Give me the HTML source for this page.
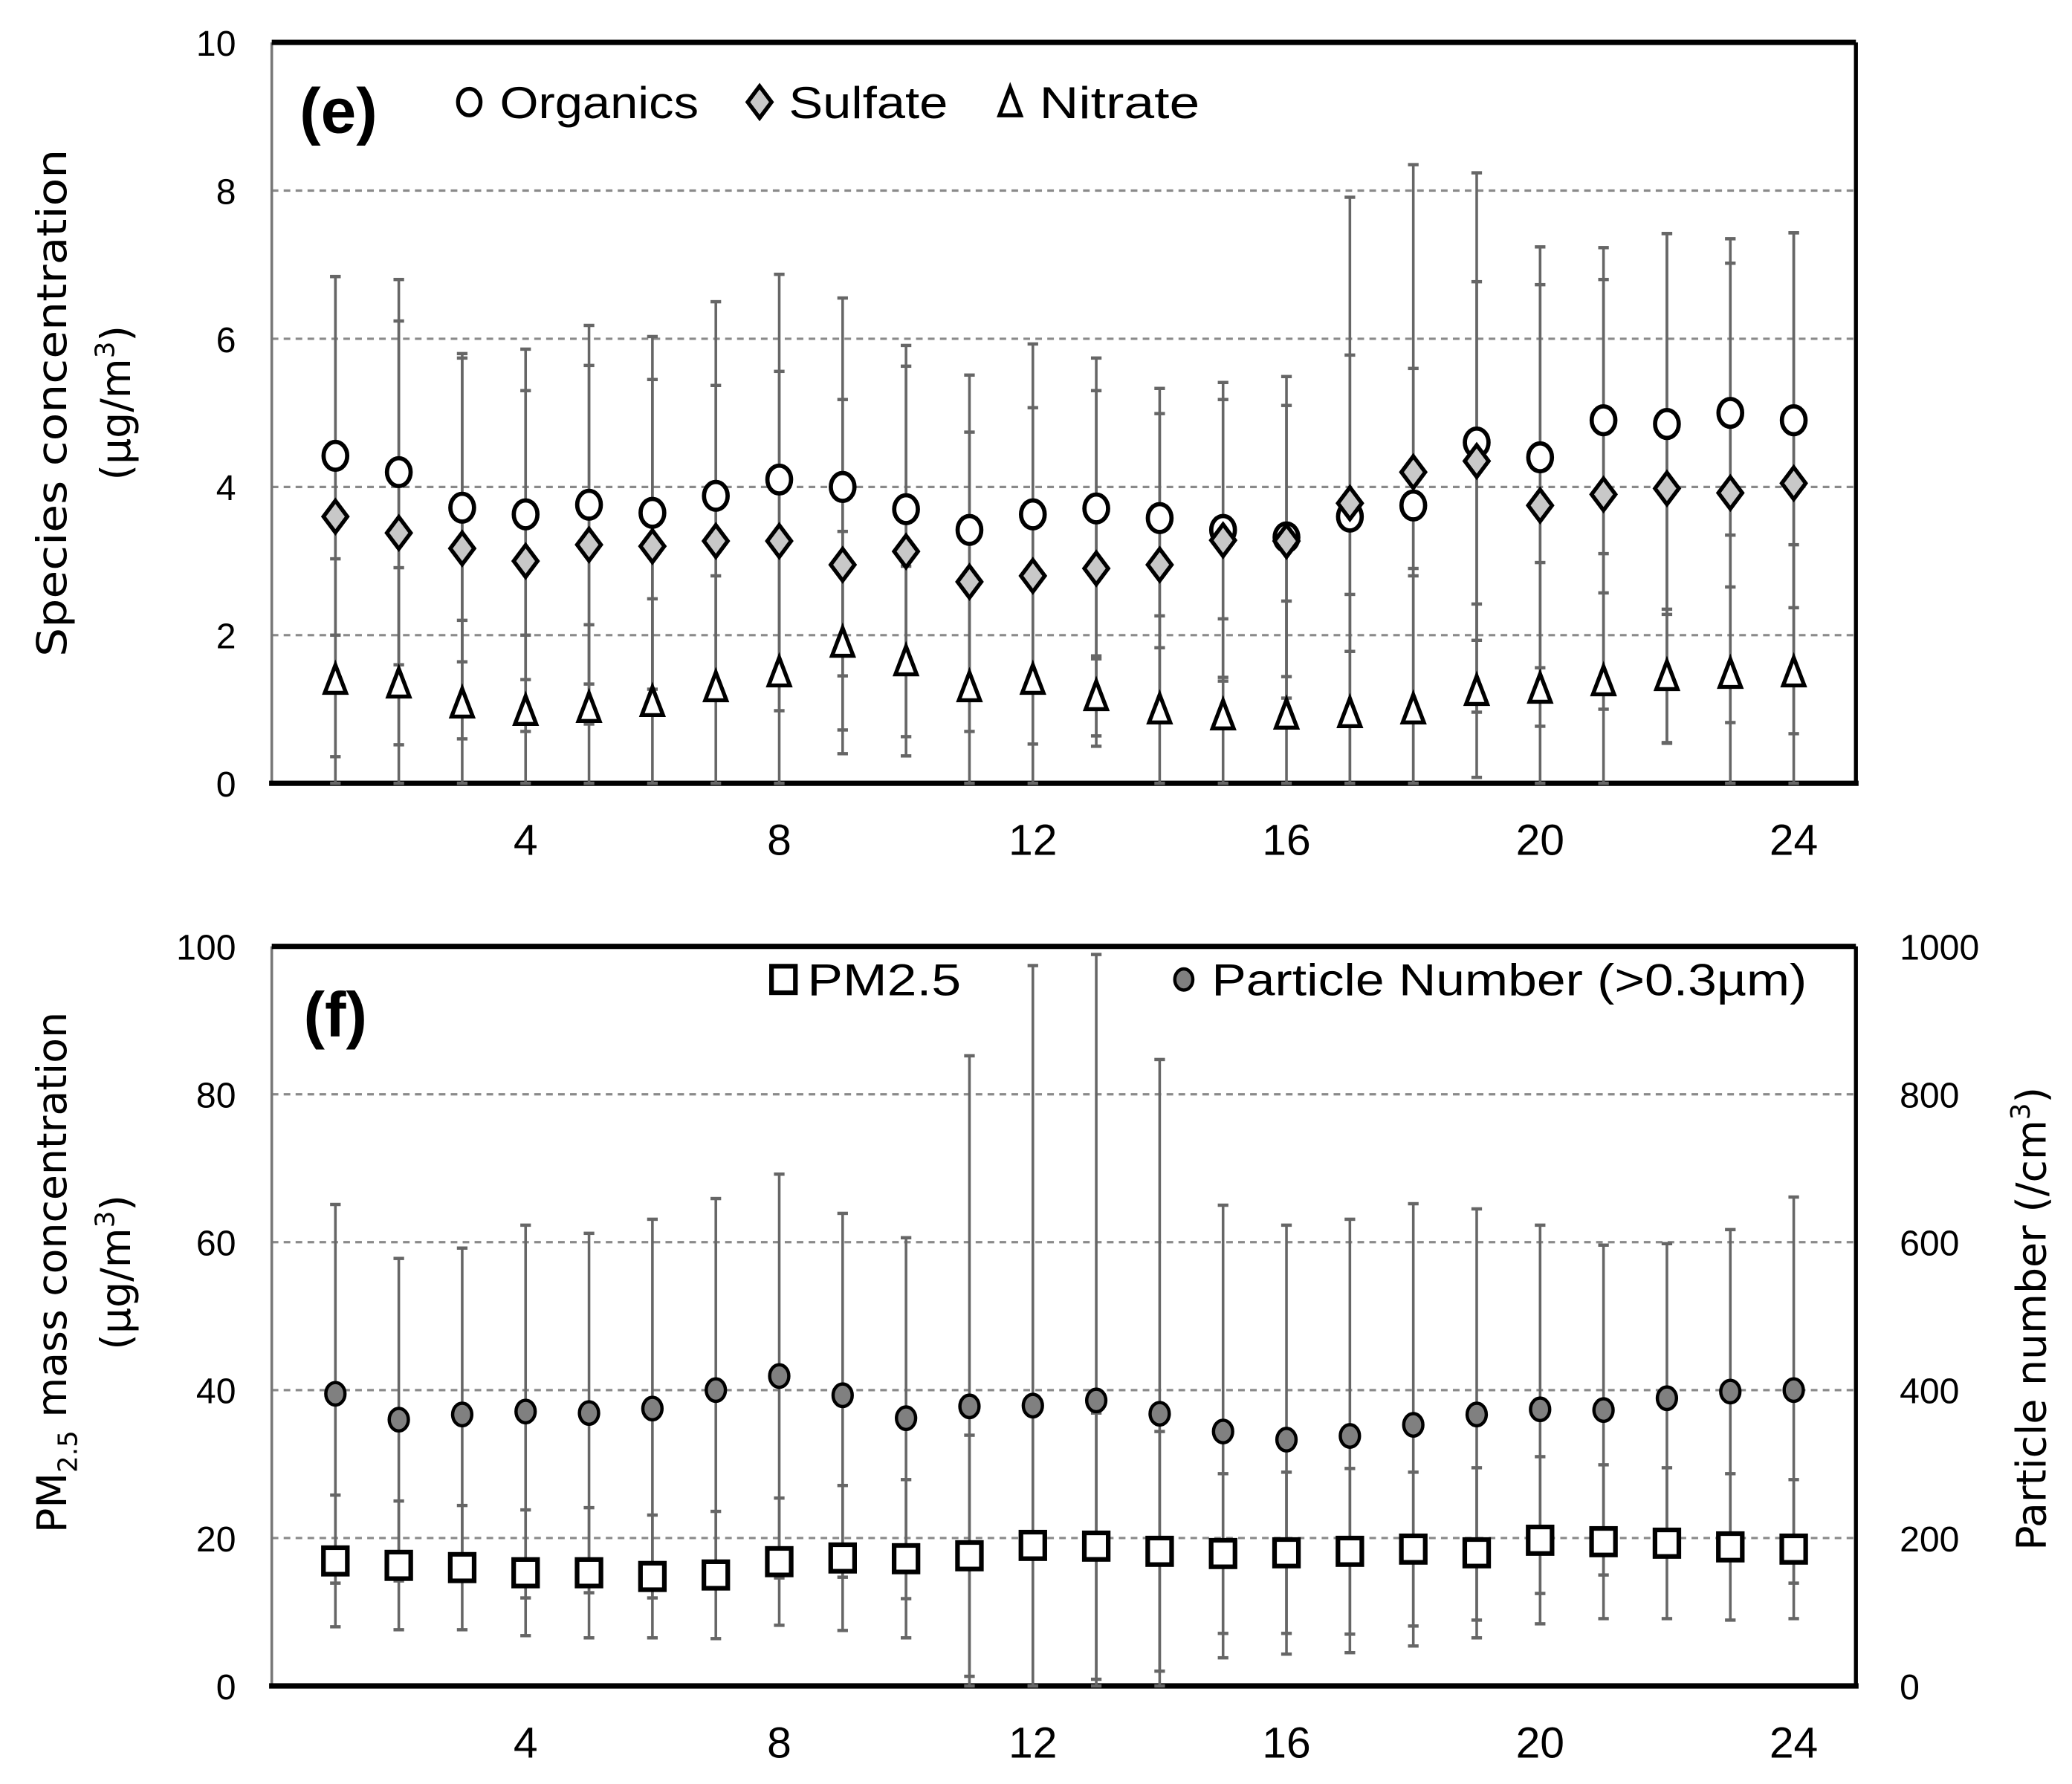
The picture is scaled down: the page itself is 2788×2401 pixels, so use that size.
<!DOCTYPE html>
<html><head><meta charset="utf-8"><style>
html,body{margin:0;padding:0;background:#fff;}
svg{display:block;}
text{font-family:"Liberation Sans",sans-serif;}
</style></head><body>
<svg id="chart" xmlns="http://www.w3.org/2000/svg" width="2788" height="2401" viewBox="0 0 1563 1346" preserveAspectRatio="none">
<rect x="0" y="0" width="1563" height="1346" fill="#fff"/>
<g id="pe"></g>
<g id="pf"></g>
</svg>
<script>
const hours = [1,2,3,4,5,6,7,8,9,10,11,12,13,14,15,16,17,18,19,20,21,22,23,24];
const orgMean = [4.42,4.2,3.72,3.63,3.76,3.65,3.88,4.1,4.0,3.7,3.42,3.63,3.71,3.58,3.42,3.32,3.6,3.75,4.6,4.4,4.9,4.85,5.0,4.9];
const orgSd = [2.42,2.6,2.08,2.23,2.42,2.38,2.62,2.77,2.55,2.21,2.09,2.3,2.03,1.75,1.99,2.17,4.31,4.6,3.64,2.84,2.33,2.57,2.35,2.53];
const sulMean = [3.6,3.38,3.17,3.0,3.22,3.2,3.27,3.27,2.95,3.13,2.72,2.8,2.9,2.95,3.28,3.27,3.78,4.2,4.35,3.75,3.9,3.98,3.92,4.05];
const sulSd = [3.24,2.86,2.57,2.3,2.42,2.25,2.1,2.29,2.23,2.5,2.02,2.27,2.4,2.04,1.9,1.83,2.0,1.4,2.42,2.98,2.9,3.44,3.1,3.38];
const nitMean = [1.4,1.35,1.08,0.98,1.02,1.1,1.3,1.5,1.9,1.65,1.3,1.4,1.18,1.0,0.92,0.93,0.95,1.0,1.25,1.28,1.38,1.45,1.48,1.5];
const nitSd = [1.63,1.56,1.12,1.02,1.12,1.39,1.5,1.8,1.5,1.28,1.3,1.4,0.54,1.26,1.3,1.53,1.6,1.9,1.17,1.7,1.72,0.9,1.87,1.72];
const pmMean = [16.9,16.3,16.0,15.3,15.3,14.8,15.0,16.8,17.3,17.2,17.6,19.0,18.9,18.2,17.9,18.0,18.2,18.5,18.0,19.7,19.5,19.3,18.8,18.5];
const pmSd = [8.9,8.7,8.4,8.5,8.8,8.3,8.6,8.6,9.8,10.7,16.3,19,18,16.2,10.8,10.9,11.2,10.4,11.5,11.3,10.4,10.2,9.9,9.4];
const pnMean = [395,360,367,371,369,375,400,419,393,362,378,379,386,368,344,333,338,353,367,374,373,389,398,400];
const pnTop = [651,578,592,623,612,631,659,692,639,606,852,974,989,847,650,623,631,652,645,623,596,598,617,661];
const eTicks = ["0","2","4","6","8","10"];
const fTicks = ["0","20","40","60","80","100"];
const fRightTicks = ["0","200","400","600","800","1000"];
const xTicks = ["4","8","12","16","20","24"];

const NS="http://www.w3.org/2000/svg";
function mk(parent,tag,attrs,txt){const e=document.createElementNS(NS,tag);for(const k in attrs)e.setAttribute(k,attrs[k]);if(txt!==undefined)e.textContent=txt;parent.appendChild(e);return e;}
const L=205,R=1400;
const xS=h=>253+(h-1)*47.83;

function frame(g,top,bot,yS,ticks,step,name){
  for(let i=1;i<ticks.length-1;i++){const y=yS(i*step);
    const gl=mk(g,'line',{x1:L,x2:R,y1:y,y2:y,stroke:'#8a8a8a','stroke-width':1.8,'stroke-dasharray':'5,4'});
    
    }
  ticks.forEach((t,i)=>{const tx=mk(g,'text',{x:178,y:yS(i*step)+10,'text-anchor':'end','font-size':27},t);
    
    });
  xTicks.forEach(t=>{const x=xS(+t);const tx=mk(g,'text',{x:x,y:bot+54,'text-anchor':'middle','font-size':33},t);
    
    });
  const a=mk(g,'line',{x1:L,x2:L,y1:top,y2:bot,stroke:'#777','stroke-width':2});
  
  
  const t1=mk(g,'line',{x1:L,x2:R,y1:top,y2:top,stroke:'#000','stroke-width':4});
  
  
  const r1=mk(g,'line',{x1:R,x2:R,y1:top,y2:bot,stroke:'#000','stroke-width':3});
  
  
  const b=mk(g,'line',{x1:L-2,x2:R+2,y1:bot,y2:bot,stroke:'#000','stroke-width':4});
  
  
}
function ebar(g,x,y1,y2,name){
  const ln=mk(g,'line',{x1:x,x2:x,y1:y1,y2:y2,stroke:'#666','stroke-width':2});
  
  
  [y1,y2].forEach(y=>{const c=mk(g,'line',{x1:x-4,x2:x+4,y1:y,y2:y,stroke:'#666','stroke-width':2.5});
    
    });
}
function circ(g,x,y,fill,r,sw,name){const c=mk(g,'ellipse',{cx:x,cy:y,rx:r*0.85,ry:r,fill:fill,stroke:'#000','stroke-width':sw});
  return c;}
function diam(g,x,y,name){const c=mk(g,'polygon',{points:`${x},${y-12} ${x+9},${y} ${x},${y+12} ${x-9},${y}`,fill:'#c8c8c8',stroke:'#000','stroke-width':3});
  }
function tri(g,x,y,name){const c=mk(g,'polygon',{points:`${x},${y-11} ${x+8},${y+10} ${x-8},${y+10}`,fill:'#fff',stroke:'#000','stroke-width':3});
  }
function sq(g,x,y,name){const c=mk(g,'rect',{x:x-9,y:y-10,width:18,height:20,fill:'#fff',stroke:'#000','stroke-width':3.5});
  }
const TT='font-family:"DejaVu Sans",sans-serif';

// Panel e
const pe=document.getElementById('pe');
const eTop=32,eBot=591;const yE=v=>eBot-v*(eBot-eTop)/10;
frame(pe,eTop,eBot,yE,eTicks,2,'e');
hours.forEach((h,i)=>{const x=xS(h);
  ebar(pe,x,yE(orgMean[i]+orgSd[i]),yE(Math.max(0,orgMean[i]-orgSd[i])),'organics-error-bar');
  ebar(pe,x,yE(sulMean[i]+sulSd[i]),yE(Math.max(0,sulMean[i]-sulSd[i])),'sulfate-error-bar');
  ebar(pe,x,yE(nitMean[i]+nitSd[i]),yE(Math.max(0,nitMean[i]-nitSd[i])),'nitrate-error-bar');});
hours.forEach((h,i)=>{const x=xS(h);
  circ(pe,x,yE(orgMean[i]),'#fff',10.5,3.2,'organics-point');
  diam(pe,x,yE(sulMean[i]),'sulfate-point');
  tri(pe,x,yE(nitMean[i]),'nitrate-point');});
mk(pe,'text',{x:226,y:100,'font-size':48,'font-weight':'bold',},'(e)');
circ(pe,354,77,'#fff',10,3,'legend-organics-marker');
mk(pe,'text',{x:377,y:89,'font-size':34,textLength:150,lengthAdjust:'spacingAndGlyphs',},'Organics');
diam(pe,573,77,'legend-sulfate-marker');
mk(pe,'text',{x:595,y:89,'font-size':34,textLength:120,lengthAdjust:'spacingAndGlyphs',},'Sulfate');
tri(pe,762,77,'legend-nitrate-marker');
mk(pe,'text',{x:784,y:89,'font-size':34,textLength:121,lengthAdjust:'spacingAndGlyphs',},'Nitrate');
mk(pe,'text',{transform:'translate(50,304) rotate(-90)','text-anchor':'middle','font-size':31,style:TT,textLength:383,lengthAdjust:'spacingAndGlyphs',},'Species concentration');
const ey2=mk(pe,'text',{transform:'translate(98,304) rotate(-90)','text-anchor':'middle','font-size':31,style:TT,},'(µg/m');
mk(ey2,'tspan',{'font-size':20,dy:-12},'3');mk(ey2,'tspan',{dy:12},')');

// Panel f
const pf=document.getElementById('pf');
const fTop=714,fBot=1272;const yF=v=>fBot-v*(fBot-fTop)/100;
frame(pf,fTop,fBot,yF,fTicks,20,'f');
fRightTicks.forEach((t,i)=>{const tx=mk(pf,'text',{x:1433,y:yF(i*20)+10,'font-size':27},t);
  
  });
hours.forEach((h,i)=>{const x=xS(h);
  ebar(pf,x,yF((pnTop[i])/10),yF(Math.max(0,(2*pnMean[i]-pnTop[i])/10)),'particle-number-error-bar');
  ebar(pf,x,yF(pmMean[i]+pmSd[i]),yF(Math.max(0,pmMean[i]-pmSd[i])),'pm25-error-bar');});
hours.forEach((h,i)=>{const x=xS(h);
  circ(pf,x,yF(pnMean[i]/10),'#808080',8.5,2.5,'particle-number-point');
  sq(pf,x,yF(pmMean[i]),'pm25-point');});
mk(pf,'text',{x:229,y:782,'font-size':48,'font-weight':'bold',},'(f)');
sq(pf,591,739,'legend-pm25-marker');
mk(pf,'text',{x:609,y:751,'font-size':34,textLength:116,lengthAdjust:'spacingAndGlyphs',},'PM2.5');
circ(pf,893,739,'#808080',8,2.5,'legend-particle-number-marker');
mk(pf,'text',{x:914,y:751,'font-size':34,textLength:449,lengthAdjust:'spacingAndGlyphs',},'Particle Number (>0.3µm)');
const fy1=mk(pf,'text',{transform:'translate(50,960) rotate(-90)','text-anchor':'middle','font-size':31,style:TT,},'PM');
mk(fy1,'tspan',{'font-size':20,dy:8},'2.5');mk(fy1,'tspan',{dy:-8},' mass concentration');
const fy2=mk(pf,'text',{transform:'translate(98,960) rotate(-90)','text-anchor':'middle','font-size':31,style:TT,},'(µg/m');
mk(fy2,'tspan',{'font-size':20,dy:-12},'3');mk(fy2,'tspan',{dy:12},')');
const fr=mk(pf,'text',{transform:'translate(1543,995) rotate(-90)','text-anchor':'middle','font-size':31,style:TT,},'Particle number  (/cm');
mk(fr,'tspan',{'font-size':20,dy:-12},'3');mk(fr,'tspan',{dy:12},')');
</script>
</body></html>
